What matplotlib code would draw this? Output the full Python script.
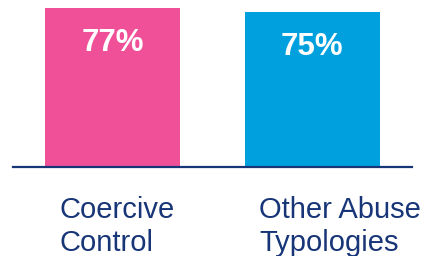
import matplotlib.pyplot as plt

plt.rcParams["font.family"] = ["Liberation Sans", "DejaVu Sans"]

# data
categories = ["Coercive\nControl", "Other Abuse\nTypologies"]
values = [77, 75]
bar_colors = ["#F05097", "#00A0DF"]
navy = "#173577"

fig = plt.figure(figsize=(4.23, 2.56), dpi=100)
ax = fig.add_axes([13 / 423, 1 - 166.5 / 256, 399 / 423, 166.5 / 256])

x = list(range(len(values)))
bar_w = 0.675
ax.bar(x, values, width=bar_w, color=bar_colors, zorder=1)

ax.set_xlim(-0.5, 1.5)
ax.set_ylim(0, 80.8)

# baseline
ax.axhline(0, color=navy, lw=1.6, zorder=3, clip_on=False)

# value labels inside bars
for xi, v in zip(x, values):
    ax.annotate(f"{v}%", (xi, v), xytext=(0, -25), textcoords="offset points",
                ha="center", va="center", color="white", fontsize=22.5,
                fontweight="bold")

# category labels below axis
for xi, lab in zip(x, categories):
    ax.annotate(lab, (xi - bar_w / 2 + 0.07, 0), xytext=(0, -21.5),
                textcoords="offset points", ha="left", va="top",
                color=navy, fontsize=21, linespacing=1.2,
                annotation_clip=False)

ax.axis("off")

fig.savefig("out.png", dpi=100)
